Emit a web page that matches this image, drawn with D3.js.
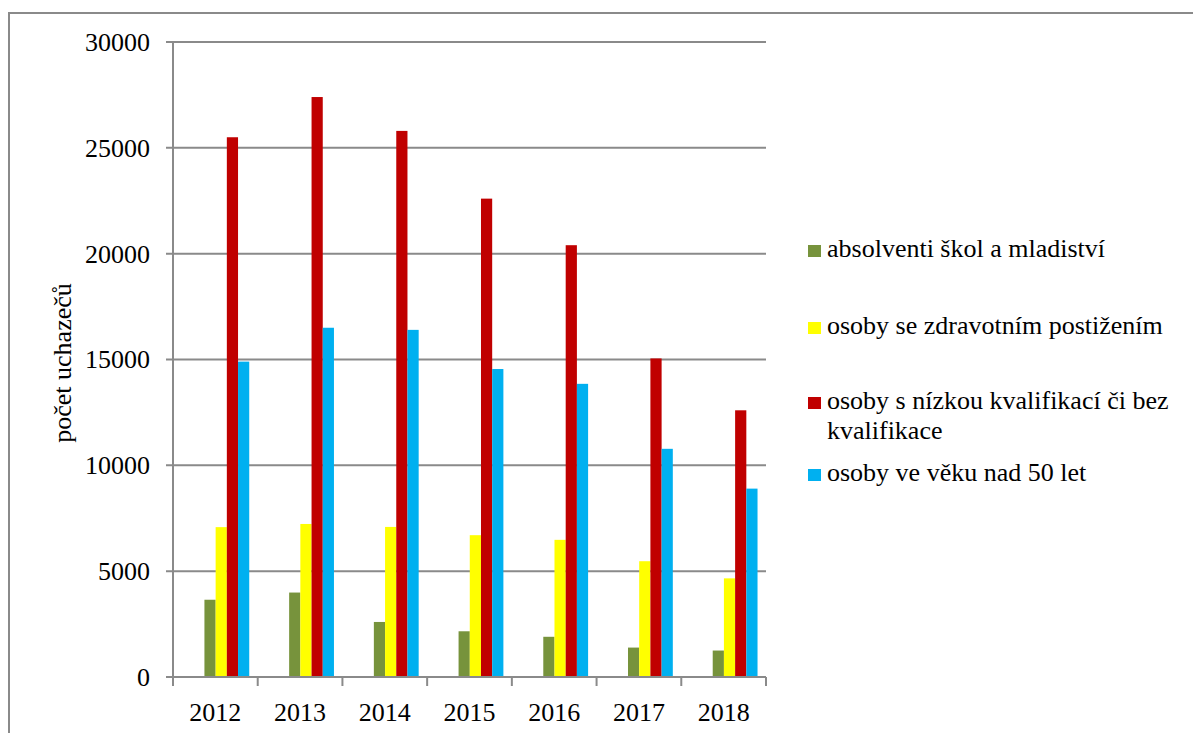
<!DOCTYPE html>
<html lang="cs">
<head>
<meta charset="utf-8">
<script src="https://cdn.jsdelivr.net/npm/d3@7"></script>
<style>
  html, body { margin: 0; padding: 0; background: #fff; }
  svg { display: block; }
</style>
</head>
<body>
<svg id="chart" width="1193" height="733"></svg>
<script>
// Roky na ose x
const years = ["2012", "2013", "2014", "2015", "2016", "2017", "2018"];

// Skupiny uchazečů (legenda)
const seriesNames = [
  "absolventi škol a mladiství",
  "osoby se zdravotním postižením",
  "osoby s nízkou kvalifikací či bez kvalifikace",
  "osoby ve věku nad 50 let"
];
const seriesColors = ["#77933C", "#FFFF00", "#C00000", "#00B0F0"];

// Počty uchazečů podle skupin
const absolventi = [3650, 3990, 2600, 2160, 1900, 1390, 1250];
const zdravotniPostizeni = [7080, 7230, 7090, 6700, 6480, 5470, 4660];
const nizkaKvalifikace = [25500, 27400, 25800, 22600, 20400, 15050, 12600];
const nad50 = [14900, 16500, 16400, 14550, 13850, 10780, 8900];
const seriesValues = [absolventi, zdravotniPostizeni, nizkaKvalifikace, nad50];

// Osa y
const yTicks = [0, 5000, 10000, 15000, 20000, 25000, 30000];
const yTitle = "počet uchazečů";

const svg = d3.select("#chart");
const gray = "#8a8a8a";
const fontSize = 26;
const serifFont = "'Liberation Serif', 'Times New Roman', Times, serif";

// Okrajový rámeček grafu
svg.append("rect")
  .attr("x", 9).attr("y", 13)
  .attr("width", 1300).attr("height", 800)
  .attr("fill", "none").attr("stroke", gray).attr("stroke-width", 2);

const plot = { left: 173, right: 766, top: 42, bottom: 677 };

const x = d3.scaleBand().domain(years).range([plot.left, plot.right]).padding(0);
const y = d3.scaleLinear().domain([0, 30000]).range([plot.bottom, plot.top]);

// Pozice sloupců uvnitř skupiny
const bw = x.bandwidth();
const xs = d3.scaleBand().domain(d3.range(seriesNames.length))
  .range([bw * 0.371, bw * 0.9]).padding(0);

// Mřížka a popisky osy y
const yAxis = svg.append("g");
yTicks.forEach(t => {
  yAxis.append("line")
    .attr("x1", plot.left - 7).attr("x2", plot.right)
    .attr("y1", y(t)).attr("y2", y(t))
    .attr("stroke", gray).attr("stroke-width", 2);
  yAxis.append("text")
    .attr("x", 150).attr("y", y(t))
    .attr("dy", "0.34em")
    .attr("text-anchor", "end")
    .style("font-family", serifFont)
    .style("font-size", fontSize + "px")
    .attr("fill", "#000")
    .text(t);
});

// Sloupce
const groups = svg.append("g").selectAll("g")
  .data(years)
  .join("g")
  .attr("transform", d => `translate(${x(d)},0)`);

groups.selectAll("rect")
  .data((d, i) => seriesValues.map((vals, s) => ({ s, v: vals[i] })))
  .join("rect")
  .attr("x", d => xs(d.s))
  .attr("width", xs.bandwidth())
  .attr("y", d => y(d.v))
  .attr("height", d => y(0) - y(d.v))
  .attr("fill", d => seriesColors[d.s]);

// Svislá osa
svg.append("line")
  .attr("x1", plot.left).attr("x2", plot.left)
  .attr("y1", plot.top).attr("y2", plot.bottom)
  .attr("stroke", gray).attr("stroke-width", 2);

// Vodorovná osa s dílky mezi roky
svg.append("line")
  .attr("x1", plot.left - 7).attr("x2", plot.right)
  .attr("y1", plot.bottom).attr("y2", plot.bottom)
  .attr("stroke", gray).attr("stroke-width", 2);

const boundaries = years.map(d => x(d)).concat([plot.right]);
svg.append("g").selectAll("line")
  .data(boundaries)
  .join("line")
  .attr("x1", d => d).attr("x2", d => d)
  .attr("y1", plot.bottom).attr("y2", plot.bottom + 9)
  .attr("stroke", gray).attr("stroke-width", 2);

svg.append("g").selectAll("text")
  .data(years)
  .join("text")
  .attr("x", d => x(d) + bw / 2)
  .attr("y", 721)
  .attr("text-anchor", "middle")
  .style("font-family", serifFont)
  .style("font-size", fontSize + "px")
  .text(d => d);

// Název osy y
svg.append("text")
  .attr("transform", "translate(71,363) rotate(-90)")
  .attr("text-anchor", "middle")
  .style("font-family", serifFont)
  .style("font-size", fontSize + "px")
  .text(yTitle);

// Legenda
const legendRows = [
  { lines: ["absolventi škol a mladiství"], base: 257 },
  { lines: ["osoby se zdravotním postižením"], base: 334 },
  { lines: ["osoby s nízkou kvalifikací či bez", "kvalifikace"], base: 409 },
  { lines: ["osoby ve věku nad 50 let"], base: 481 }
];
const legend = svg.append("g");
legendRows.forEach((r, i) => {
  legend.append("rect")
    .attr("x", 808).attr("y", r.base - 12)
    .attr("width", 13).attr("height", 12)
    .attr("fill", seriesColors[i]);
  const t = legend.append("text")
    .attr("x", 827).attr("y", r.base)
    .style("font-family", serifFont)
    .style("font-size", fontSize + "px");
  r.lines.forEach((ln, j) => {
    t.append("tspan")
      .attr("x", 827)
      .attr("y", r.base + j * 30)
      .text(ln);
  });
});
</script>
</body>
</html>
